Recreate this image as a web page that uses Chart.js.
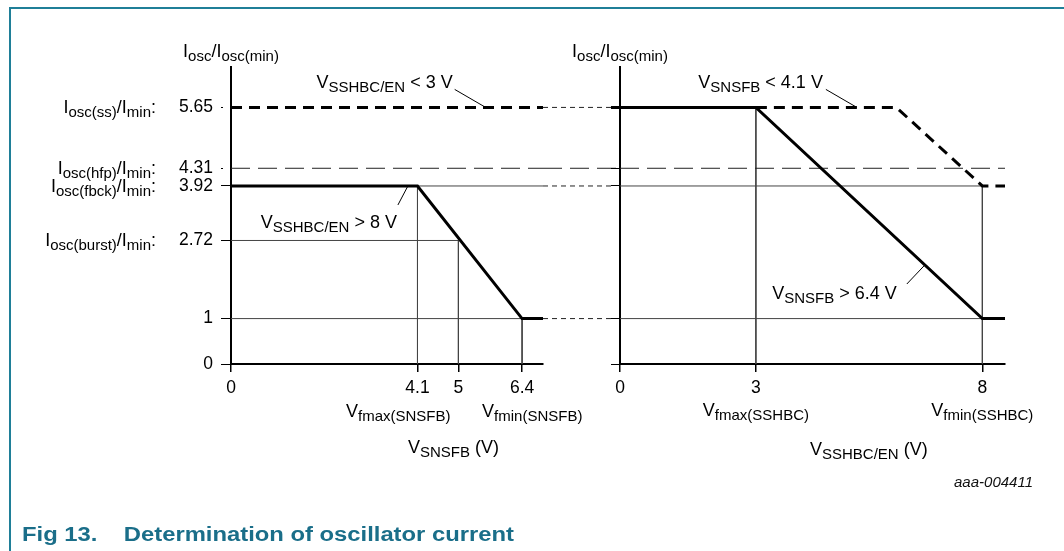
<!DOCTYPE html>
<html>
<head>
<meta charset="utf-8">
<title>Determination of oscillator current</title>
<script src="https://cdn.jsdelivr.net/npm/chart.js@4.4.1/dist/chart.umd.min.js"></script>
<style>
  html, body { margin: 0; padding: 0; background: #fff; }
  #page { position: relative; width: 1064px; height: 551px; overflow: hidden;
          font-family: "Liberation Sans", Arial, sans-serif; }
  #frame { position: absolute; left: 9px; top: 7px; width: 1100px; height: 600px;
           border-top: 2px solid #1f7f98; border-left: 2px solid #1f7f98; }
  canvas { position: absolute; left: 0; top: 0; }
  #caption { position: absolute; left: 22px; top: 524px; font-size: 20px; line-height: 20px;
             font-weight: bold; color: #1a6e89; white-space: pre;
             transform: scaleX(1.19); transform-origin: left top; }
  #code { position: absolute; right: 31px; top: 474px; font-size: 15px; line-height: 15px;
          font-style: italic; color: #111; }
</style>
</head>
<body>
<div id="page">
  <div id="frame"></div>
  <canvas id="snsfb-chart" width="1064" height="551"></canvas>
  <canvas id="sshbc-chart" width="1064" height="551"></canvas>
  <div id="code">aaa-004411</div>
  <div id="caption">Fig 13.    Determination of oscillator current</div>
</div>
<script>
// Oscillator current figure: two panels sharing the I_osc/I_osc(min) axis

// y axis: I_osc / I_osc(min) levels
const levelTicks = [0, 1, 2.72, 3.92, 4.31, 5.65];
const levelNames = ['', '', 'I_{osc(burst)}/I_{min}:', 'I_{osc(fbck)}/I_{min}:', 'I_{osc(hfp)}/I_{min}:', 'I_{osc(ss)}/I_{min}:'];
const ratioMax = 6.54;
const hfpLevel = 4.31;

// left panel: x = V_SNSFB (V)
const snsfbTicks = [0, 4.1, 5, 6.4];
const snsfbMax = 6.86;
const snsfbV = [0, 4.1, 6.4, 6.86];          // V_SSHBC/EN > 8 V
const snsfbRatio = [3.92, 3.92, 1, 1];
const snsfbSsV = [0, 6.86];                  // V_SSHBC/EN < 3 V
const snsfbSsRatio = [5.65, 5.65];
const snsfbGuides = [
  [[0, 3.92], [6.86, 3.92]],
  [[4.1, 3.92], [4.1, 0]],
  [[0, 2.72], [5, 2.72], [5, 0]],
  [[0, 1], [6.4, 1], [6.4, 0]]
];

// right panel: x = V_SSHBC/EN (V)
const sshbcTicks = [0, 3, 8];
const sshbcMax = 8.5;
const sshbcV = [0, 3, 8, 8.5];               // V_SNSFB > 6.4 V
const sshbcRatio = [5.65, 5.65, 1, 1];
const sshbcLowV = [3, 6.1, 8, 8.5];          // V_SNSFB < 4.1 V
const sshbcLowRatio = [5.65, 5.65, 3.92, 3.92];
const sshbcGuides = [
  [[0, 3.92], [8, 3.92], [8, 0]],
  [[0, 1], [8, 1]],
  [[3, 5.65], [3, 0]]
];
const sshbcYTicks = [0, 1, 3.92, 4.31, 5.65];

// layout
const W = 1064, H = 551, TOP = 67, BOTTOM = 364;
const FAMILY = '"Liberation Sans", Arial, sans-serif';
const MAIN = 18, SUB = 15, SUB_DROP = 4;
const BRIDGE_END = 611;

Chart.defaults.font.family = FAMILY;
Chart.defaults.color = '#000';

const zip = (xs, ys) => xs.map((x, i) => [x, ys[i]]);

function lineSet(points, style) {
  return Object.assign({
    data: points.map(([x, y]) => ({ x, y })),
    borderColor: '#000',
    borderWidth: 1,
    pointRadius: 0,
    tension: 0,
    fill: false
  }, style);
}

const THICK = { borderWidth: 3 };
const THICK_DASH = { borderWidth: 3, borderDash: [11, 7] };
const LONG_DASH = { borderWidth: 1, borderDash: [19, 8], borderColor: '#222' };
const THIN = { borderWidth: 1, borderColor: '#444' };

// text with subscripts written as _{...}
function drawRich(ctx, s, x, y, align) {
  const parts = s.split(/(_\{[^}]*\})/).filter(Boolean).map(p =>
    p.startsWith('_{') ? { t: p.slice(2, -1), sub: true } : { t: p, sub: false });
  const font = sub => (sub ? SUB : MAIN) + 'px ' + FAMILY;
  let w = 0;
  parts.forEach(p => { ctx.font = font(p.sub); p.w = ctx.measureText(p.t).width; w += p.w; });
  let cx = align === 'right' ? x - w : align === 'center' ? x - w / 2 : x;
  ctx.textAlign = 'left';
  ctx.textBaseline = 'alphabetic';
  ctx.fillStyle = '#000';
  parts.forEach(p => {
    ctx.font = font(p.sub);
    ctx.fillText(p.t, cx, p.sub ? y + SUB_DROP : y);
    cx += p.w;
  });
}

function drawNote(chart, n) {
  const ctx = chart.ctx;
  const px = chart.scales.x.getPixelForValue(n.at[0]);
  const py = chart.scales.y.getPixelForValue(n.at[1]);
  const sx = px + n.dx, sy = py + n.dy;
  ctx.save();
  ctx.strokeStyle = '#000';
  ctx.lineWidth = 1;
  ctx.beginPath();
  ctx.moveTo(sx, sy);
  ctx.lineTo(px, py);
  ctx.stroke();
  drawRich(ctx, n.text, sx + n.tx, sy + n.ty, 'right');
  ctx.restore();
}

const snsfbNotes = [
  { text: 'V_{SSHBC/EN} < 3 V', at: [5.6, 5.65], dx: -31, dy: -18, tx: -2, ty: -1 },
  { text: 'V_{SSHBC/EN} > 8 V', at: [3.89, 3.92], dx: -10, dy: 19, tx: -1, ty: 23 }
];
const sshbcNotes = [
  { text: 'V_{SNSFB} < 4.1 V', at: [5.23, 5.65], dx: -31, dy: -18, tx: -3, ty: -1 },
  { text: 'V_{SNSFB} > 6.4 V', at: [6.73, 2.18], dx: -18, dy: 19, tx: -10, ty: 15 }
];

const snsfbText = {
  id: 'snsfbText',
  afterDatasetsDraw(chart) {
    const { ctx, chartArea, scales } = chart;
    ctx.save();
    // dashed continuation between the panels
    ctx.strokeStyle = '#222';
    ctx.lineWidth = 1;
    ctx.setLineDash([5, 4]);
    [5.65, 3.92, 1].forEach(v => {
      const y = scales.y.getPixelForValue(v);
      ctx.beginPath();
      ctx.moveTo(chartArea.right, y);
      ctx.lineTo(BRIDGE_END, y);
      ctx.stroke();
    });
    ctx.setLineDash([19, 8]);
    const yh = scales.y.getPixelForValue(hfpLevel);
    ctx.beginPath();
    ctx.moveTo(chartArea.right, yh);
    ctx.lineTo(BRIDGE_END + 9, yh);
    ctx.stroke();
    ctx.restore();

    ctx.save();
    levelTicks.forEach((v, i) => {
      if (levelNames[i]) drawRich(ctx, levelNames[i], chartArea.left - 75, scales.y.getPixelForValue(v) + 6, 'right');
    });
    drawRich(ctx, 'I_{osc}/I_{osc(min)}', chartArea.left, 57, 'center');
    drawRich(ctx, 'V_{fmax(SNSFB)}', scales.x.getPixelForValue(4.1) + 33, 417, 'right');
    drawRich(ctx, 'V_{fmin(SNSFB)}', scales.x.getPixelForValue(6.4) - 40, 417, 'left');
    drawRich(ctx, 'V_{SNSFB} (V)', chartArea.left + 177, 453, 'left');
    ctx.restore();
    snsfbNotes.forEach(n => drawNote(chart, n));
  }
};

const sshbcText = {
  id: 'sshbcText',
  afterDatasetsDraw(chart) {
    const { ctx, chartArea, scales } = chart;
    ctx.save();
    drawRich(ctx, 'I_{osc}/I_{osc(min)}', chartArea.left, 57, 'center');
    drawRich(ctx, 'V_{fmax(SSHBC)}', scales.x.getPixelForValue(3), 416, 'center');
    drawRich(ctx, 'V_{fmin(SSHBC)}', scales.x.getPixelForValue(8), 416, 'center');
    drawRich(ctx, 'V_{SSHBC/EN} (V)', chartArea.left + 190, 455, 'left');
    ctx.restore();
    sshbcNotes.forEach(n => drawNote(chart, n));
  }
};

function panel(id, o) {
  return new Chart(document.getElementById(id), {
    type: 'line',
    data: { datasets: o.datasets },
    options: {
      responsive: false,
      animation: false,
      devicePixelRatio: 1,
      layout: { padding: { left: 0, top: TOP, right: W - o.right, bottom: 0 } },
      plugins: { legend: { display: false }, tooltip: { enabled: false } },
      scales: {
        x: {
          type: 'linear', min: 0, max: o.xMax,
          afterFit: s => { s.height = H - BOTTOM; },
          afterBuildTicks: s => { s.ticks = o.xTicks.map(value => ({ value })); },
          border: { color: '#000', width: 2 },
          grid: { drawOnChartArea: false, tickLength: 8, color: '#000', lineWidth: 1.5 },
          ticks: { autoSkip: false, maxRotation: 0, font: { size: 17.5 }, padding: 6, callback: v => String(v) }
        },
        y: {
          type: 'linear', min: 0, max: ratioMax,
          afterFit: s => { s.width = o.left; },
          afterBuildTicks: s => { s.ticks = o.yTicks.map(value => ({ value })); },
          border: { color: '#000', width: 2 },
          grid: {
            drawOnChartArea: false, tickLength: o.tickLength, color: '#000', lineWidth: 1,
            tickWidth: c => (c.tick && c.tick.value === o.thickTick ? 3 : 1),
            tickBorderDash: c => (c.tick && o.dottedTicks.includes(c.tick.value) ? [2, 7] : [])
          },
          ticks: { display: o.yLabels, font: { size: 17.5 }, padding: 8, callback: v => String(v) }
        }
      }
    },
    plugins: [o.plugin]
  });
}

panel('snsfb-chart', {
  left: 231, right: 543, xMax: snsfbMax, xTicks: snsfbTicks, yTicks: levelTicks,
  tickLength: 10, yLabels: true, thickTick: null, dottedTicks: [4.31, 5.65],
  plugin: snsfbText,
  datasets: [
    lineSet(zip(snsfbV, snsfbRatio), THICK),
    lineSet(zip(snsfbSsV, snsfbSsRatio), THICK_DASH),
    lineSet([[0, hfpLevel], [snsfbMax, hfpLevel]], LONG_DASH),
    ...snsfbGuides.map(g => lineSet(g, THIN))
  ]
});

panel('sshbc-chart', {
  left: 620, right: 1005, xMax: sshbcMax, xTicks: sshbcTicks, yTicks: sshbcYTicks,
  tickLength: 9, yLabels: false, thickTick: 5.65, dottedTicks: [],
  plugin: sshbcText,
  datasets: [
    lineSet(zip(sshbcV, sshbcRatio), THICK),
    lineSet(zip(sshbcLowV, sshbcLowRatio), THICK_DASH),
    lineSet([[0, hfpLevel], [sshbcMax, hfpLevel]], LONG_DASH),
    ...sshbcGuides.map(g => lineSet(g, THIN))
  ]
});
</script>
</body>
</html>
